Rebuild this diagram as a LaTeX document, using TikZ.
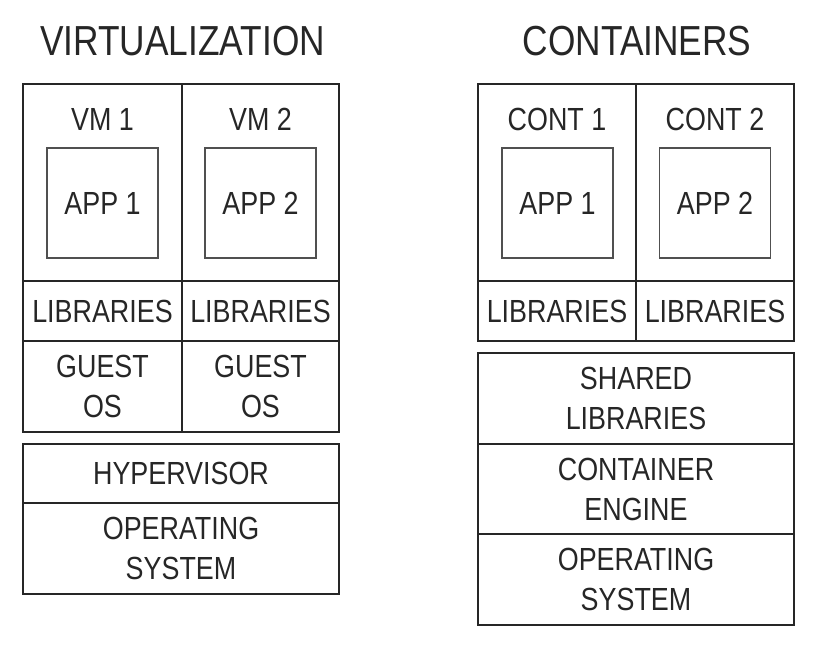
\documentclass[tikz,border=0pt]{standalone}
\usepackage{fontspec}
\setmainfont{Liberation Sans}[FakeStretch=0.84]
\definecolor{ink}{HTML}{262626}
\definecolor{appline}{HTML}{505050}
\begin{document}
\begin{tikzpicture}[x=1pt,y=-1pt,
  cell/.style={draw=ink,line width=2pt,rectangle,inner sep=0pt,align=center,
    font=\fontsize{32}{40}\selectfont,text=ink},
  appbox/.style={draw=appline,line width=1.6pt,rectangle,inner sep=0pt,
    minimum width=111pt,minimum height=110pt,font=\fontsize{32}{40}\selectfont,text=ink},
  lbl/.style={inner sep=0pt,font=\fontsize{32}{40}\selectfont,text=ink},
  title/.style={inner sep=0pt,font=\fontsize{42}{50}\selectfont,text=ink}]
\useasboundingbox (0,0) rectangle (818,650);
% titles
\node[title] (t1) at (182.5,41) {VIRTUALIZATION};
\node[title] (t2) at (637,41) {CONTAINERS};
% ---- virtualization
\node[cell,minimum width=159pt,minimum height=197pt] (vm1) at (102.5,182.5) {};
\node[cell,minimum width=157pt,minimum height=197pt] (vm2) at (260.5,182.5) {};
\node[lbl] (vm1l) at (102.5,119.5) {VM 1};
\node[lbl] (vm2l) at (260.5,119.5) {VM 2};
\node[appbox] (app1) at (102.5,203) {APP 1};
\node[appbox] (app2) at (260.5,203) {APP 2};
\node[cell,minimum width=159pt,minimum height=60pt] (lib1) at (102.5,311) {LIBRARIES};
\node[cell,minimum width=157pt,minimum height=60pt] (lib2) at (260.5,311) {LIBRARIES};
\node[cell,minimum width=159pt,minimum height=91pt] (gos1) at (102.5,386.5) {GUEST\\OS};
\node[cell,minimum width=157pt,minimum height=91pt] (gos2) at (260.5,386.5) {GUEST\\OS};
\node[cell,minimum width=316pt,minimum height=59pt] (hyp) at (181,473.5) {HYPERVISOR};
\node[cell,minimum width=316pt,minimum height=91pt] (os1) at (181,548.5) {OPERATING\\SYSTEM};
% ---- containers
\node[cell,minimum width=158pt,minimum height=197pt] (c1) at (557,182.5) {};
\node[cell,minimum width=158pt,minimum height=197pt] (c2) at (715,182.5) {};
\node[lbl] (c1l) at (557,119.5) {CONT 1};
\node[lbl] (c2l) at (715,119.5) {CONT 2};
\node[appbox] (capp1) at (557.5,203) {APP 1};
\node[appbox] (capp2) at (715,203) {APP 2};
\node[cell,minimum width=158pt,minimum height=60pt] (clib1) at (557,311) {LIBRARIES};
\node[cell,minimum width=158pt,minimum height=60pt] (clib2) at (715,311) {LIBRARIES};
\node[cell,minimum width=316pt,minimum height=91pt] (shl) at (636,398.5) {SHARED\\LIBRARIES};
\node[cell,minimum width=316pt,minimum height=90pt] (eng) at (636,489) {CONTAINER\\ENGINE};
\node[cell,minimum width=316pt,minimum height=91pt] (os2) at (636,579.5) {OPERATING\\SYSTEM};
\end{tikzpicture}
\end{document}
